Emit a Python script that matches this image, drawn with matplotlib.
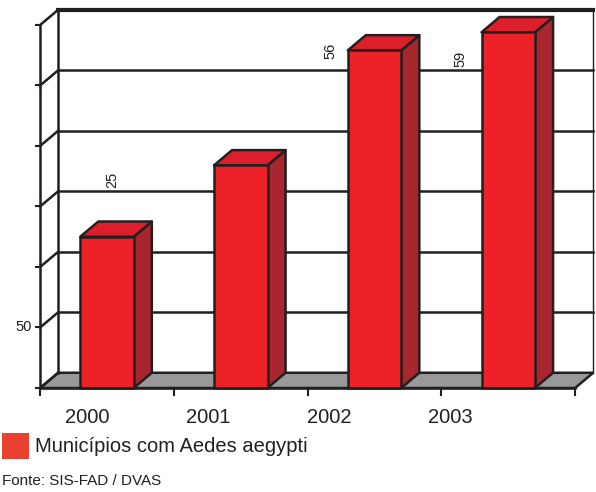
import matplotlib
matplotlib.use("Agg")
import matplotlib.pyplot as plt
from matplotlib.patches import Polygon

plt.rcParams["font.family"] = ["Liberation Sans", "DejaVu Sans"]

# data
years = ["2000", "2001", "2002", "2003"]
values = [125, 184, 279, 294]
bar_labels = ["25", "", "56", "59"]
y_ticks = [0, 50, 100, 150, 200, 250, 300]
y_tick_labels = ["", "50", "", "", "", "", ""]

# style
front_col = "#ed2229"
top_col = "#dc1f2b"
side_col = "#a8272e"
floor_col = "#999999"
edge_col = "#231f20"
DX, DY = 0.135, 12.6      # depth offset of the 3d look
BW = 0.40                 # bar width
label_off = [(0.04, 47), (0, 0), (-0.33, 0), (-0.36, -22)]

fig = plt.figure(figsize=(5.96, 4.92), dpi=100)
ax = fig.add_axes([0, 0, 1, 1])
ax.set_xlim(-0.8, 3.656)
ax.set_ylim(-85.95, 320.66)
ax.axis("off")

x0, x1 = -0.5, len(years) - 0.5
ymax = y_ticks[-1]

# floor
ax.add_patch(Polygon([(x0, 0), (x1, 0), (x1 + DX, DY), (x0 + DX, DY)],
                     closed=True, fc=floor_col, ec=edge_col, lw=1.8, zorder=1))

# back wall grid + left wall diagonals
for t in y_ticks[1:]:
    lw = 3.0 if t == ymax else 1.8
    ax.plot([x0 + DX, x1 + DX], [t + DY, t + DY], color=edge_col, lw=lw, zorder=1)
for t in y_ticks:
    ax.plot([x0, x0 + DX], [t, t + DY], color=edge_col, lw=1.8, zorder=1)
    ax.plot([x0 - 0.03, x0], [t, t], color=edge_col, lw=1.5, zorder=1)
ax.plot([x0 + DX, x0 + DX], [DY, ymax + DY], color=edge_col, lw=1.8, zorder=1)
ax.plot([x1 + DX, x1 + DX], [DY, ymax + DY], color=edge_col, lw=1.0, zorder=1)
ax.plot([x0, x0], [0, ymax], color=edge_col, lw=1.8, zorder=1)

# front axis + ticks
ax.plot([x0, x1], [0, 0], color=edge_col, lw=1.8, zorder=4)
for k in range(len(years) + 1):
    ax.plot([x0 + k, x0 + k], [0, -5.8], color=edge_col, lw=1.5, zorder=4)

for t, lab in zip(y_ticks, y_tick_labels):
    if lab:
        ax.text(x0 - 0.06, t, lab, ha="right", va="center", fontsize=10.5,
                color="#231f20")

# bars
for i, v in enumerate(values):
    l, r = i - BW / 2, i + BW / 2
    ax.add_patch(Polygon([(r, 0), (r + DX, DY), (r + DX, v + DY), (r, v)],
                         fc=side_col, ec=edge_col, lw=1.8, joinstyle="round", zorder=3))
    ax.add_patch(Polygon([(l, v), (r, v), (r + DX, v + DY), (l + DX, v + DY)],
                         fc=top_col, ec=edge_col, lw=1.8, joinstyle="round", zorder=3))
    ax.add_patch(Polygon([(l, 0), (r, 0), (r, v), (l, v)],
                         fc=front_col, ec=edge_col, lw=1.8, joinstyle="round", zorder=3))
    if bar_labels[i]:
        ox, oy = label_off[i]
        ax.text(i + ox, v + oy, bar_labels[i], rotation=90, ha="center", va="center",
                fontsize=10.5, color="#231f20")

# category labels
for i, y in enumerate(years):
    ax.text(i * 0.905 - 0.15, -24, y, ha="center", va="center", fontsize=14.5,
            color="#231f20")

# legend and source
W, H = 596, 492
fig.patches.append(plt.Rectangle((2 / W, 1 - 459 / H), 27 / W, 26 / H,
                                 transform=fig.transFigure, fc="#e8412f", ec="none"))
fig.text(35 / W, 1 - 447 / H, "Municípios com Aedes aegypti", ha="left", va="center",
         fontsize=14.5, color="#231f20")
fig.text(2 / W, 1 - 481 / H, "Fonte: SIS-FAD / DVAS", ha="left", va="center",
         fontsize=11, color="#231f20")

fig.savefig("out.png", dpi=100)
